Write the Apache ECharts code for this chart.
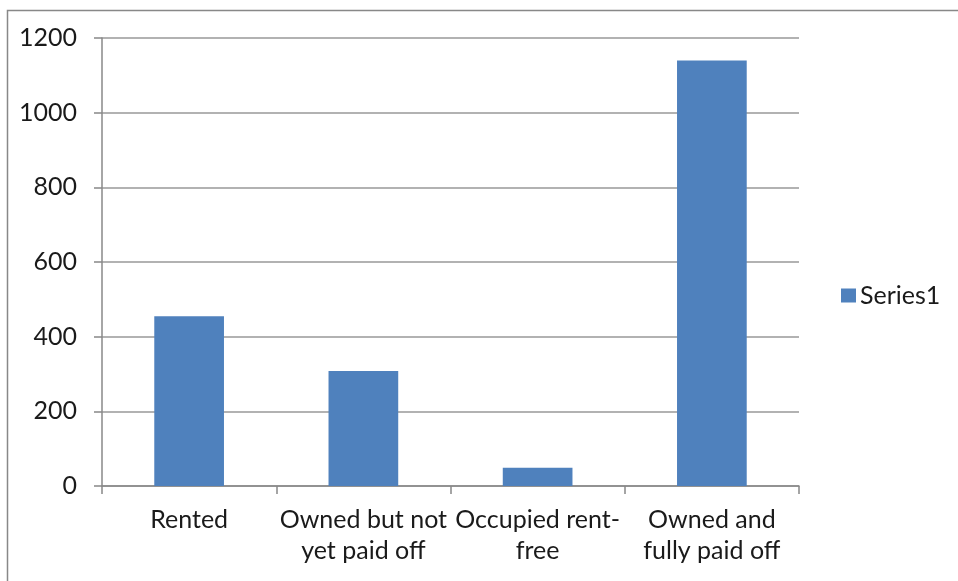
<!DOCTYPE html>
<html>
<head>
<meta charset="utf-8">
<script src="https://cdn.jsdelivr.net/npm/echarts@6/dist/echarts.min.js"></script>
<style>html,body{margin:0;padding:0;background:#fff;}#c{width:958px;height:581px;}</style>
</head>
<body>
<div id="c"></div>
<script>
const categories = ["Rented", "Owned but not\nyet paid off", "Occupied rent-\nfree", "Owned and\nfully paid off"];
const series1 = [455, 308, 49, 1140];
const seriesName = "Series1";
const yTicks = { min: 0, max: 1200, interval: 200 };

const chart = echarts.init(document.getElementById('c'), null, { renderer: 'canvas' });
const FONT = 'Lato';
const FS = 25;
chart.setOption({
  animation: false,
  backgroundColor: '#fff',
  graphic: [{
    type: 'rect', left: 5, top: 8,
    shape: { width: 1000, height: 700 },
    style: { fill: 'none', stroke: '#888', lineWidth: 1.5 }
  }],
  grid: { left: 102, right: 159, top: 38, bottom: 95, containLabel: false },
  legend: {
    data: [seriesName], left: 841, top: 283, orient: 'vertical', padding: 0,
    icon: 'rect', itemWidth: 15, itemHeight: 14, itemGap: 4,
    textStyle: { fontFamily: FONT, fontSize: FS, color: '#1a1a1a', padding: [0, 0, 0, -1] }
  },
  xAxis: {
    type: 'category', data: categories,
    axisLine: { lineStyle: { color: '#888', width: 1.5 } },
    axisTick: { show: true, length: 8, alignWithLabel: false, lineStyle: { color: '#888', width: 1.5 } },
    axisLabel: { fontFamily: FONT, fontSize: FS, color: '#1a1a1a', lineHeight: 31, margin: 18, interval: 0 }
  },
  yAxis: {
    type: 'value', min: yTicks.min, max: yTicks.max, interval: yTicks.interval,
    axisLine: { show: true, lineStyle: { color: '#888', width: 1.5 } },
    axisTick: { show: true, length: 8, lineStyle: { color: '#888', width: 1.5 } },
    splitLine: { lineStyle: { color: '#999', width: 1.5 } },
    axisLabel: { fontFamily: FONT, fontSize: FS, color: '#1a1a1a', margin: 25, formatter: v => String(v) }
  },
  series: [{
    name: seriesName, type: 'bar', data: series1,
    barCategoryGap: '60%',
    itemStyle: { color: '#4f81bd' }
  }]
});
</script>
</body>
</html>
